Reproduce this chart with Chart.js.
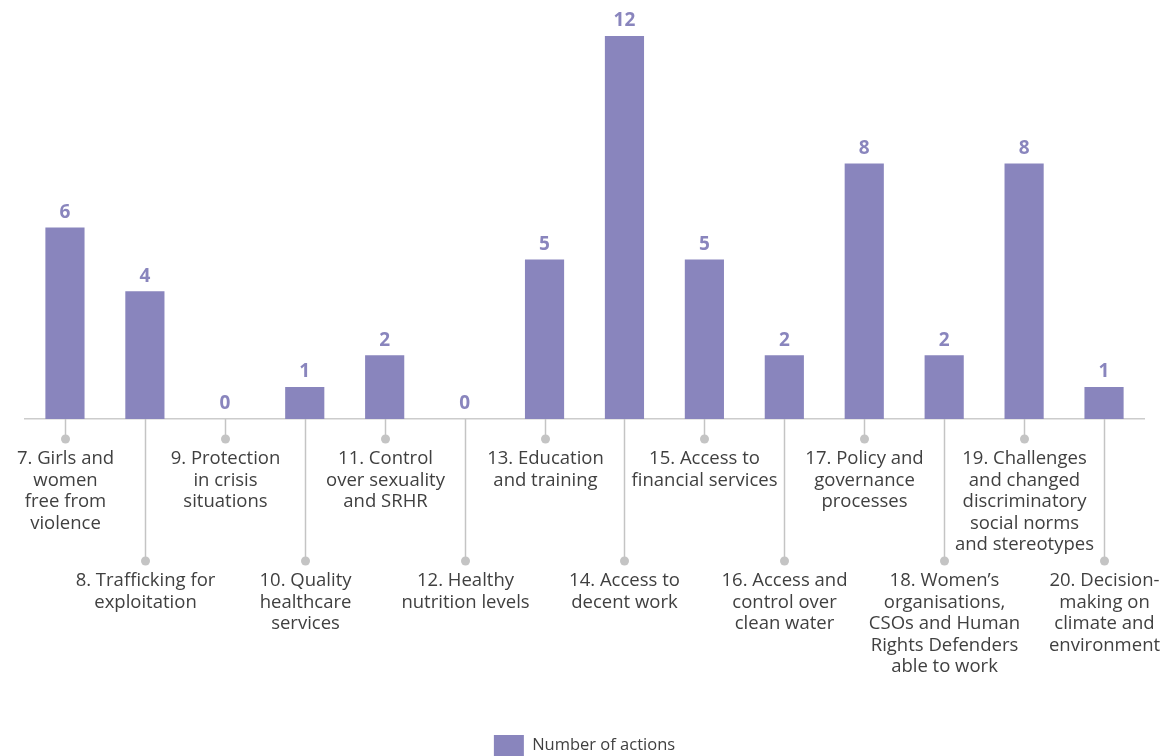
<!DOCTYPE html>
<html>
<head>
<meta charset="utf-8">
<script src="https://cdn.jsdelivr.net/npm/chart.js@4.4.1/dist/chart.umd.min.js"></script>
<style>
html,body{margin:0;padding:0;background:#fff;}
#wrap{width:1162px;height:756px;position:relative;}
</style>
</head>
<body>
<div id="wrap"><canvas id="c" width="1162" height="756"></canvas></div>
<script>
const categories = [
  ["7. Girls and","women","free from","violence"],
  ["8. Trafficking for","exploitation"],
  ["9. Protection","in crisis","situations"],
  ["10. Quality","healthcare","services"],
  ["11. Control","over sexuality","and SRHR"],
  ["12. Healthy","nutrition levels"],
  ["13. Education","and training"],
  ["14. Access to","decent work"],
  ["15. Access to","financial services"],
  ["16. Access and","control over","clean water"],
  ["17. Policy and","governance","processes"],
  ["18. Women\u2019s","organisations,","CSOs and Human","Rights Defenders","able to work"],
  ["19. Challenges","and changed","discriminatory","social norms","and stereotypes"],
  ["20. Decision-","making on","climate and","environment"]
];
const numberOfActions = [6,4,0,1,2,0,5,12,5,2,8,2,8,1];
const seriesName = "Number of actions";

const BAR = '#8985bd';
const TEXT = '#404040';
const LEAD = '#c4c4c4';
const FONT = 'Open Sans';

const labelPlugin = {
  id: 'labelPlugin',
  afterDatasetsDraw(chart) {
    const ctx = chart.ctx;
    const meta = chart.getDatasetMeta(0);
    const xs = chart.scales.x;
    const base = chart.chartArea.bottom;
    ctx.save();
    ctx.font = 'bold 19px "' + FONT + '"';
    ctx.fillStyle = BAR;
    ctx.textAlign = 'center';
    ctx.textBaseline = 'middle';
    meta.data.forEach((bar, i) => {
      ctx.fillText(String(numberOfActions[i]), bar.x, bar.y - 15);
    });
    categories.forEach((lines, i) => {
      const x = Math.round(xs.getPixelForValue(i)) + 0.5;
      const low = i % 2 === 1;
      const dotY = base + (low ? 142 : 20);
      ctx.strokeStyle = LEAD;
      ctx.lineWidth = 1.5;
      ctx.beginPath();
      ctx.moveTo(x, base);
      ctx.lineTo(x, dotY);
      ctx.stroke();
      ctx.fillStyle = LEAD;
      ctx.beginPath();
      ctx.arc(x, dotY, 4.5, 0, Math.PI * 2);
      ctx.fill();
      ctx.fillStyle = TEXT;
      ctx.font = '18.5px "' + FONT + '"';
      ctx.textAlign = 'center';
      ctx.textBaseline = 'middle';
      const startY = dotY + 20;
      lines.forEach((t, k) => ctx.fillText(t, x, startY + k * 21.5));
    });
    ctx.restore();
  }
};

new Chart(document.getElementById('c'), {
  type: 'bar',
  data: {
    labels: categories.map(c => c.join(' ')),
    datasets: [{
      label: seriesName,
      data: numberOfActions,
      backgroundColor: BAR,
      borderWidth: 0,
      categoryPercentage: 1,
      barPercentage: 0.49
    }]
  },
  options: {
    responsive: false,
    animation: false,
    layout: { padding: { top: 4, left: 25, right: 18, bottom: -10 } },
    plugins: {
      legend: {
        position: 'bottom',
        labels: {
          boxWidth: 30, boxHeight: 21, padding: 0,
          color: TEXT,
          font: { family: FONT, size: 16.5 }
        }
      },
      tooltip: { enabled: false }
    },
    scales: {
      x: {
        grid: { display: false, drawTicks: false },
        border: { display: true, color: '#cccccc', width: 1.5 },
        ticks: { display: false },
        afterFit(scale) { scale.height = 316; }
      },
      y: {
        display: false,
        min: 0, max: 13
      }
    }
  },
  plugins: [labelPlugin]
});
</script>
</body>
</html>
